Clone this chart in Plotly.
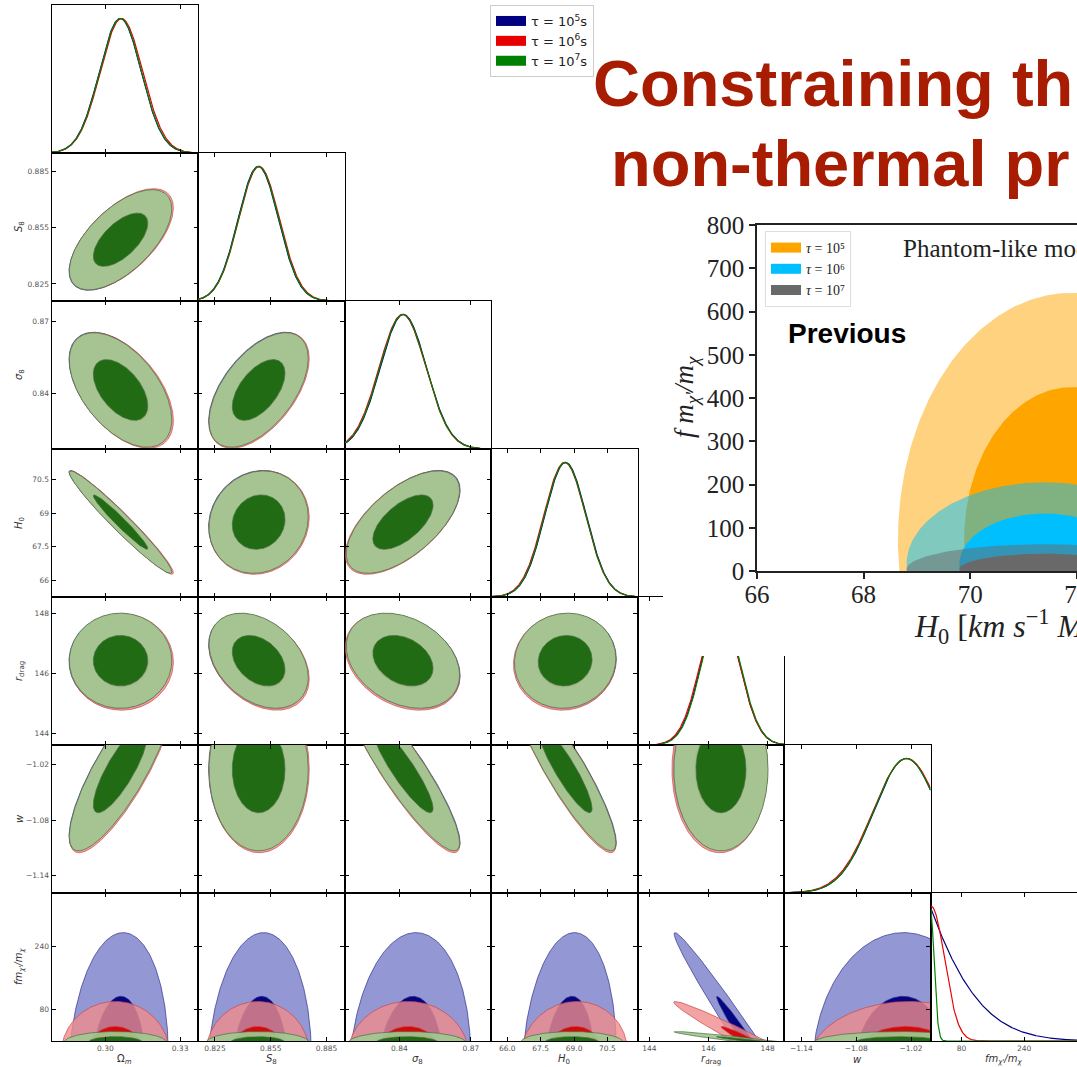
import numpy as np
import plotly.graph_objects as go

FIG_W, FIG_H = 1077, 1067

# ---------------- corner plot data ----------------
labels = ["Ω<sub><i>m</i></sub>", "<i>S</i><sub>8</sub>", "<i>σ</i><sub>8</sub>",
          "<i>H</i><sub>0</sub>", "<i>r</i><sub>drag</sub>", "<i>w</i>",
          "<i>fm</i><sub><i>χ'</i></sub><i>/m</i><sub><i>χ</i></sub>"]
ranges = [[0.2784, 0.3372], [0.8159, 0.8947], [0.8170, 0.8784], [65.27, 71.85],
          [143.6, 148.55], [-1.159, -0.9987], [1.0, 375.0]]
tickvals = [[0.30, 0.33], [0.825, 0.855, 0.885], [0.84, 0.87], [66.0, 67.5, 69.0, 70.5],
            [144, 146, 148], [-1.14, -1.08, -1.02], [80, 240]]
xticktext = [["0.30", "0.33"], ["0.825", "0.855", "0.885"], ["0.84", "0.87"],
             ["66.0", "67.5", "69.0", "70.5"], ["144", "146", "148"],
             ["−1.14", "−1.08", "−1.02"], ["80", "240"]]
yticktext = [["0.30", "0.33"], ["0.825", "0.855", "0.885"], ["0.84", "0.87"],
             ["66", "67.5", "69", "70.5"], ["144", "146", "148"],
             ["−1.14", "−1.08", "−1.02"], ["80", "240"]]

series_names = ["τ = 10<sup>5</sup>s", "τ = 10<sup>6</sup>s", "τ = 10<sup>7</sup>s"]
series_colors = ["#000080", "#e80000", "#008000"]
series_edge = ["#30308a", "#c84848", "#4a6e44"]
series_fill95 = ["rgba(40,50,170,0.5)", "rgba(240,140,140,0.8)", "rgba(160,200,145,0.93)"]
series_fill68 = ["rgba(0,0,128,0.97)", "rgba(215,0,0,0.92)", "rgba(28,104,16,0.97)"]

# six cosmological parameters: mean / std per lifetime
mu_tau5 = [0.3060, 0.8483, 0.8417, 68.62, 146.40, -1.0250]
mu_tau6 = [0.3065, 0.8488, 0.8413, 68.58, 146.38, -1.0248]
mu_tau7 = [0.3061, 0.8485, 0.8415, 68.60, 146.42, -1.0252]
sd_tau5 = [0.0084, 0.0109, 0.0097, 0.93, 0.65, 0.036]
sd_tau6 = [0.0085, 0.0110, 0.0098, 0.94, 0.66, 0.037]
sd_tau7 = [0.0084, 0.0109, 0.0097, 0.93, 0.65, 0.036]
corr = [
    [1.00, 0.62, -0.52, -0.97, 0.00, 0.82],
    [0.62, 1.00, 0.55, 0.10, -0.35, 0.00],
    [-0.52, 0.55, 1.00, 0.62, -0.30, -0.90],
    [-0.97, 0.10, 0.62, 1.00, 0.05, -0.90],
    [0.00, -0.35, -0.30, 0.05, 1.00, 0.00],
    [0.82, 0.00, -0.90, -0.90, 0.00, 1.00],
]

# f m_chi'/m_chi parameter: joint shapes with the others
f_mu = [-68.3, -33.4, -2.7]
f_sd = [140.2, 54.9, 11.3]
fmu_tau5 = [0.3052, 0.8490, 0.8444, 68.77, 147.90, -1.0300]
fsd_tau5 = [0.0082, 0.0114, 0.0104, 0.87, 1.25, 0.040]
frho_tau5 = [0.10, 0.08, 0.10, 0.12, -0.990, 0.02]
fmu_tau6 = [0.3040, 0.8480, 0.8437, 69.00, 148.24, -1.0300]
fsd_tau6 = [0.0089, 0.0114, 0.0103, 0.98, 1.395, 0.041]
frho_tau6 = [0.00, 0.00, 0.00, 0.05, -0.985, 0.08]
fmu_tau7 = [0.3040, 0.8480, 0.8432, 68.90, 147.89, -1.0330]
fsd_tau7 = [0.0084, 0.0113, 0.0100, 0.94, 1.246, 0.038]
frho_tau7 = [0.00, 0.00, 0.00, 0.00, -0.970, 0.00]
# 1D marginal of f m_chi'/m_chi (peak-normalised shape)
f1d_mu = [-274.0, 3.0, 0.0]
f1d_sd = [185.0, 34.0, 10.0]

mus = [mu_tau5, mu_tau6, mu_tau7]
sds = [sd_tau5, sd_tau6, sd_tau7]
fmus = [fmu_tau5, fmu_tau6, fmu_tau7]
fsds = [fsd_tau5, fsd_tau6, fsd_tau7]
frhos = [frho_tau5, frho_tau6, frho_tau7]

# ---------------- inset ("Previous") data ----------------
inset_names = ["<i>τ</i> = 10⁵", "<i>τ</i> = 10⁶", "<i>τ</i> = 10⁷"]
inset_colors = ["rgb(255,165,0)", "rgb(0,191,255)", "rgb(105,105,105)"]
inset_fill95 = ["rgba(255,165,0,0.5)", "rgba(0,191,255,0.5)", "rgba(105,105,105,0.5)"]
inset_fill68 = ["rgba(255,165,0,1)", "rgba(0,191,255,1)", "rgba(105,105,105,1)"]
inset_H0_mu = [71.9, 71.4, 71.4]
inset_H0_sd = [1.33, 1.06, 1.06]
inset_f_mu = [71.0, 15.6, 4.2]
inset_f_sd = [233.7, 77.4, 23.6]
inset_rho = [0.0, 0.0, 0.0]
inset_yticks = [0, 100, 200, 300, 400, 500, 600, 700, 800]
inset_xticks = [66, 68, 70, 72]

K68_C, K95_C = 1.30, 2.448
K68_I, K95_I = 1.515, 2.448
T = np.linspace(0, 2 * np.pi, 361)


def ellipse(mx, my, sx, sy, rho, k):
    x = mx + k * sx * np.cos(T)
    y = my + k * sy * (rho * np.cos(T) + np.sqrt(1 - rho ** 2) * np.sin(T))
    return x, y


# ---------------- geometry ----------------
COL0, COLW = 51.5, 146.5
ROW0, ROWH = 5.0, 148.0


def dom_x(j):
    return [(COL0 + j * COLW) / FIG_W, min(1.0, (COL0 + (j + 1) * COLW) / FIG_W)]


def dom_y(i):
    return [1 - (ROW0 + (i + 1) * ROWH) / FIG_H, 1 - (ROW0 + i * ROWH) / FIG_H]


fig = go.Figure()
layout_axes = {}
annotations = []

tickfont = dict(family="DejaVu Sans", size=7.5, color="#555")
base_ax = dict(showgrid=False, zeroline=False, showline=True, linecolor="black",
               linewidth=1.1, ticks="inside", ticklen=4, tickwidth=1, tickcolor="black",
               tickfont=tickfont, automargin=False)

n = 0
for i in range(7):
    for j in range(i + 1):
        n += 1
        xa, ya = f"x{n}", f"y{n}"
        xkey = "xaxis" if n == 1 else f"xaxis{n}"
        ykey = "yaxis" if n == 1 else f"yaxis{n}"
        xd = dict(base_ax, domain=dom_x(j), anchor=ya, range=ranges[j], tickvals=tickvals[j],
                  ticktext=xticktext[j], showticklabels=(i == 6), mirror="ticks")
        if i == j:
            yd = dict(base_ax, domain=dom_y(i), anchor=xa, range=[0, 1.1], ticks="",
                      showticklabels=False, mirror=(j != 6))
        else:
            yd = dict(base_ax, domain=dom_y(i), anchor=xa, range=ranges[i], tickvals=tickvals[i],
                      ticktext=yticktext[i], showticklabels=(j == 0), mirror="ticks")
        layout_axes[xkey] = xd
        layout_axes[ykey] = yd

        if i == j:
            for s in range(3):
                if j < 6:
                    xs = np.linspace(ranges[j][0] - 0.02 * (ranges[j][1] - ranges[j][0]),
                                     ranges[j][1], 300)
                    pdf = np.exp(-0.5 * ((xs - mus[s][j]) / sds[s][j]) ** 2)
                else:
                    xs = np.linspace(0, ranges[6][1], 400)
                    pdf = np.exp(-0.5 * ((xs - f1d_mu[s]) / f1d_sd[s]) ** 2)
                pdf = pdf / pdf.max()
                fig.add_trace(go.Scatter(x=xs, y=pdf, mode="lines", xaxis=xa, yaxis=ya,
                                         line=dict(color=series_colors[s], width=1.2),
                                         showlegend=False, hoverinfo="skip"))
        else:
            for s in range(3):
                for k, fc in ((K95_C, series_fill95[s]), (K68_C, series_fill68[s])):
                    if i < 6:
                        ex, ey = ellipse(mus[s][j], mus[s][i], sds[s][j], sds[s][i], corr[i][j], k)
                    else:
                        ex, ey = ellipse(fmus[s][j], f_mu[s], fsds[s][j], f_sd[s], frhos[s][j], k)
                    fig.add_trace(go.Scatter(x=ex, y=ey, mode="lines", fill="toself", fillcolor=fc,
                                             xaxis=xa, yaxis=ya,
                                             line=dict(color=series_edge[s], width=0.7),
                                             showlegend=False, hoverinfo="skip"))

# legend-only entries for the corner plot
for s in range(3):
    fig.add_trace(go.Scatter(x=[None], y=[None], mode="lines", xaxis="x1", yaxis="y1",
                             name=series_names[s], line=dict(color=series_colors[s], width=10),
                             showlegend=True, legend="legend"))

# axis titles of the corner plot
for j in range(7):
    annotations.append(dict(text=labels[j], xref="paper", yref="paper",
                            x=sum(dom_x(j)) / 2, y=1 - 1059 / FIG_H, showarrow=False,
                            font=dict(family="DejaVu Sans", size=10, color="#333"),
                            xanchor="center", yanchor="middle"))
for i in range(1, 7):
    annotations.append(dict(text=labels[i], xref="paper", yref="paper",
                            x=19 / FIG_W, y=sum(dom_y(i)) / 2, showarrow=False, textangle=-90,
                            font=dict(family="DejaVu Sans", size=10, color="#333"),
                            xanchor="center", yanchor="middle"))

# ---------------- cover (white panel of the pasted inset) ----------------
nc = 29
layout_axes[f"xaxis{nc}"] = dict(domain=[663 / FIG_W, 1.0], anchor=f"y{nc}", visible=False,
                                 range=[0, 1], showgrid=False, zeroline=False)
layout_axes[f"yaxis{nc}"] = dict(domain=[1 - 656 / FIG_H, 1 - 200 / FIG_H], anchor=f"x{nc}",
                                 visible=False, range=[0, 1], showgrid=False, zeroline=False)
fig.add_trace(go.Scatter(x=[None], y=[None], xaxis=f"x{nc}", yaxis=f"y{nc}", showlegend=False,
                         hoverinfo="skip"))

# ---------------- inset axes ----------------
ni = 30
inset_font = dict(family="Liberation Serif", size=25, color="#222")
layout_axes[f"xaxis{ni}"] = dict(domain=[757 / FIG_W, 1.0], anchor=f"y{ni}",
                                 range=[66, 72.003],
                                 tickvals=inset_xticks, ticks="outside", ticklen=6, tickwidth=1.5,
                                 tickcolor="#222", showline=True, linecolor="#222", linewidth=1.6,
                                 mirror=True, showgrid=False, zeroline=False, automargin=False,
                                 ticklabelstandoff=-6, ticklabeloverflow="allow",
                                 tickfont=inset_font)
layout_axes[f"yaxis{ni}"] = dict(domain=[1 - 571 / FIG_H, 1 - 225 / FIG_H], anchor=f"x{ni}",
                                 range=[0, 800], tickvals=inset_yticks, ticks="outside", ticklen=6,
                                 tickwidth=1.5, tickcolor="#222", showline=True, linecolor="#222",
                                 linewidth=1.6, mirror=False, showgrid=False, zeroline=False,
                                 automargin=False, tickfont=inset_font)
for s in range(3):
    for k, fc in ((K95_I, inset_fill95[s]), (K68_I, inset_fill68[s])):
        ex, ey = ellipse(inset_H0_mu[s], inset_f_mu[s], inset_H0_sd[s], inset_f_sd[s],
                         inset_rho[s], k)
        fig.add_trace(go.Scatter(x=ex, y=ey, mode="lines", fill="toself", fillcolor=fc,
                                 xaxis=f"x{ni}", yaxis=f"y{ni}", line=dict(width=0),
                                 showlegend=False, hoverinfo="skip"))
for s in range(3):
    fig.add_trace(go.Scatter(x=[None], y=[None], mode="lines", xaxis=f"x{ni}", yaxis=f"y{ni}",
                             name=inset_names[s], line=dict(color=inset_colors[s], width=11),
                             showlegend=True, legend="legend2"))

annotations += [
    dict(text="<i>H</i><sub>0</sub> [<i>km s</i><sup>−1</sup> <i>Mpc</i><sup>−1</sup>]",
         xref="paper", yref="paper", x=912 / FIG_W, y=1 - 626 / FIG_H, showarrow=False,
         xanchor="left", yanchor="middle",
         font=dict(family="Liberation Serif", size=32, color="#222")),
    dict(text="<i>f m</i><sub><i>χ'</i></sub><i>/m</i><sub><i>χ</i></sub>",
         xref="paper", yref="paper", x=686 / FIG_W, y=1 - 397 / FIG_H, showarrow=False,
         textangle=-90, xanchor="center", yanchor="middle",
         font=dict(family="Liberation Serif", size=27, color="#222")),
    dict(text="Phantom-like model", xref="paper", yref="paper", x=901 / FIG_W, y=1 - 248 / FIG_H,
         showarrow=False, xanchor="left", yanchor="middle",
         font=dict(family="Liberation Serif", size=25, color="#222")),
    dict(text="<b>Previous</b>", xref="paper", yref="paper", x=786 / FIG_W, y=1 - 334 / FIG_H,
         showarrow=False, xanchor="left", yanchor="middle",
         font=dict(family="Liberation Sans", size=28, color="black")),
    dict(text="<b>Constraining th</b>", xref="paper", yref="paper", x=591 / FIG_W,
         y=1 - 84 / FIG_H, showarrow=False, xanchor="left", yanchor="middle",
         font=dict(family="Liberation Sans", size=65, color="#a81c02")),
    dict(text="<b>non-thermal pr</b>", xref="paper", yref="paper", x=609 / FIG_W,
         y=1 - 163 / FIG_H, showarrow=False, xanchor="left", yanchor="middle",
         font=dict(family="Liberation Sans", size=65, color="#a81c02")),
]

fig.update_layout(
    width=FIG_W, height=FIG_H, margin=dict(l=0, r=0, t=0, b=0),
    template="none", paper_bgcolor="white", plot_bgcolor="white",
    showlegend=True,
    legend=dict(x=490 / FIG_W, y=1 - 5 / FIG_H, xanchor="left", yanchor="top",
                bgcolor="white", bordercolor="#cccccc", borderwidth=1,
                font=dict(family="DejaVu Sans", size=13, color="#222"), itemwidth=30),
    legend2=dict(x=765 / FIG_W, y=1 - 231 / FIG_H, xanchor="left", yanchor="top",
                 bgcolor="rgba(255,255,255,0.9)", bordercolor="#dddddd", borderwidth=1,
                 font=dict(family="Liberation Serif", size=14, color="#222"), itemwidth=30),
    annotations=annotations,
    **layout_axes,
)

fig.write_html("out.html")
